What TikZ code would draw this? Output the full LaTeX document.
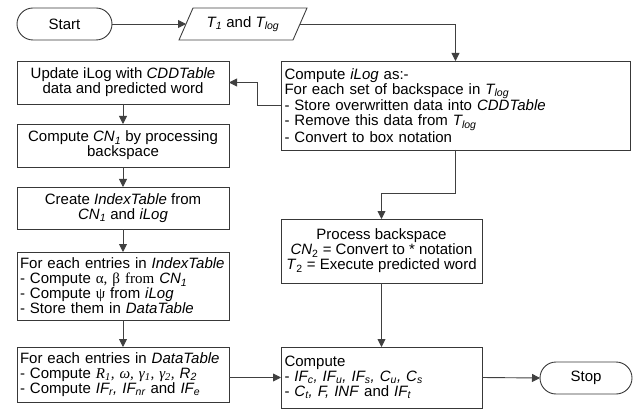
\documentclass[tikz,border=0pt]{standalone}
\usepackage{fontspec}
\setmainfont{Liberation Sans}
\newfontfamily\serifgr{Liberation Serif}
\usetikzlibrary{arrows.meta}
\newcommand\sbs[1]{\textsubscript{#1}}
\begin{document}
\begin{tikzpicture}[x=1pt,y=-1pt,
  every node/.style={font=\fontsize{15pt}{15pt}\selectfont, inner sep=0pt, outer sep=0pt},
  box/.style={draw=black!78, line width=0.9pt, minimum width=212pt, align=center},
  lbox/.style={box, align=left, text width=206pt},
  rbox/.style={draw=black!78, line width=0.9pt, minimum width=201pt, align=center},
  term/.style={draw=black!78, line width=0.9pt, rounded corners=16pt, minimum height=32pt},
  arr/.style={draw=black!75, line width=0.9pt, -{Triangle[length=8pt,width=8pt]}},
  lin/.style={draw=black!75, line width=0.9pt}]
\useasboundingbox (0,0) rectangle (642,414);

\node[term, minimum width=95pt] (start) at (64.5,24) {Start};
\node[minimum width=114pt, minimum height=32pt] (para) at (243,24) {\textit{T\sbs{1}} and \textit{T\sbs{log}}};
\draw[lin] (179,40) -- (193,8) -- (307,8) -- (293,40) -- cycle;

\node[box, minimum height=43pt] (upd) at (123,82.5) {Update iLog with \textit{CDDTable}\\data and predicted word};
\node[box, minimum height=43pt] (cn1) at (123,145.5) {Compute \textit{CN\sbs{1}} by processing\\backspace};
\node[box, minimum height=42pt] (idx) at (123,208) {Create \textit{IndexTable} from\\\textit{CN\sbs{1}} and \textit{iLog}};
\node[lbox, minimum height=68pt] (ent) at (123,286) {For each entries in \textit{IndexTable}\\- Compute {\serifgr α, β from} \textit{CN\sbs{1}}\\- Compute {\serifgr ψ} from \textit{iLog}\\- Store them in \textit{DataTable}};
\node[lbox, minimum height=55pt] (dat) at (123,374.5) {For each entries in \textit{DataTable}\\- Compute {\serifgr\itshape R\sbs{1}, ω, γ\sbs{1}, γ\sbs{2},} \textit{R\sbs{2}}\\- Compute \textit{IF\sbs{r}, IF\sbs{nr}} and \textit{IF\sbs{e}}};

\node[draw=black!78, line width=0.9pt, minimum width=349pt, minimum height=89pt, align=left, text width=342pt] (ilog) at (455.5,105.5) {Compute \textit{iLog} as:-\\For each set of backspace in \textit{T\sbs{log}}\\- Store overwritten data into \textit{CDDTable}\\- Remove this data from \textit{T\sbs{log}}\\- Convert to box notation};
\node[rbox, minimum height=64pt] (proc) at (381.5,251) {Process backspace\\\textit{CN}\sbs{2} = Convert to * notation\\\textit{T}\sbs{2} = Execute predicted word};
\node[rbox, minimum height=61pt, align=left, text width=194pt] (comp) at (381.5,377.5) {Compute\\- \textit{IF\sbs{c}, IF\sbs{u}, IF\sbs{s}, C\sbs{u}, C\sbs{s}}\\- \textit{C\sbs{t}, F, INF} and \textit{IF\sbs{t}}};
\node[term, minimum width=92pt] (stop) at (586,378) {Stop};

\coordinate (bend) at (0,193);
\draw[arr] (start.east) -- (para.west);
\draw[arr] (para.east) -| (ilog.north);
\draw[arr] (ilog.west) -- ++(-24,0) |- (upd.east);
\draw[arr] (upd.south) -- (cn1.north);
\draw[arr] (cn1.south) -- (idx.north);
\draw[arr] (idx.south) -- (ent.north);
\draw[arr] (ent.south) -- (dat.north);
\draw[arr] (ilog.south) -- (ilog.south |- bend) -| (proc.north);
\draw[arr] (proc.south) -- (comp.north);
\draw[arr] (dat.east |- comp.west) -- (comp.west);
\draw[arr] (comp.east) -- (stop.west);
\end{tikzpicture}
\end{document}
